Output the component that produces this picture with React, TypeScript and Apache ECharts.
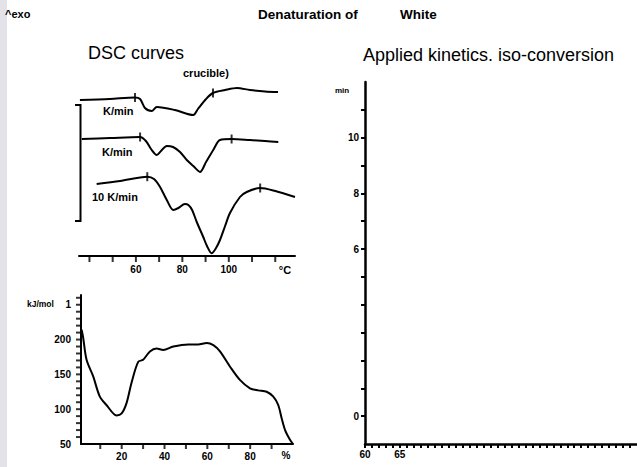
import React, { useEffect, useRef } from "react";
import * as echarts from "echarts";

// DSC curves: [temperature °C, heat flow (arb. units, offset)]
const dscSlowCurve: number[][] = [
  [35.9, 15.6], [48.8, 15.7], [59.6, 15.85], [61.8, 15.7], [63.9, 14.8], [66.8, 14.5],
  [69.0, 14.9], [76.8, 14.6], [84.7, 14.1], [86.7, 14.7], [90.2, 15.7], [93.2, 16.3],
  [98.4, 16.6], [103.5, 16.8], [109.1, 16.6], [115.6, 16.45], [121.2, 16.4],
];
const dscMidCurve: number[][] = [
  [36.7, 11.7], [48.9, 11.8], [61.8, 11.9], [64.3, 11.5], [66.5, 10.7], [69.0, 10.1],
  [70.8, 10.5], [73.3, 11.0], [76.0, 10.9], [79.0, 10.4], [81.9, 9.6], [84.7, 9.0],
  [87.6, 8.4], [90.2, 9.4], [93.3, 10.6], [96.2, 11.6], [101.2, 11.7], [109.1, 11.6],
  [115.6, 11.5], [121.3, 11.4],
];
const dscFastCurve: number[][] = [
  [43.1, 7.2], [53.2, 7.5], [64.9, 7.93], [67.8, 7.7], [70.4, 6.9], [73.3, 5.6],
  [76.1, 4.6], [78.3, 4.8], [81.1, 5.2], [82.6, 5.1], [84.2, 4.6], [86.2, 3.4],
  [89.0, 1.9], [90.6, 1.0], [92.6, 0.27], [94.5, 0.8], [96.2, 1.6], [98.4, 3.0],
  [100.5, 4.3], [104.8, 5.9], [107.7, 6.4], [113.5, 6.8], [120.0, 6.5], [128.5, 5.9],
];
// integration limits marked on each DSC curve
const dscLimitMarks: number[][] = [
  [59.6, 15.85], [93.2, 16.3],
  [61.8, 11.9], [101.2, 11.7],
  [64.9, 7.93], [113.5, 6.8],
];
const dscTickValues = [40, 50, 60, 70, 80, 90, 100, 110, 120];
const dscLabelValues = [60, 80, 100];

// Activation energy vs conversion: [conversion %, kJ/mol]
const activationEnergy: number[][] = [
  [1.3, 214], [2.0, 203], [3.6, 171], [6.7, 147], [9.8, 118], [12.9, 106], [17.6, 91],
  [20.0, 94], [22.3, 109], [24.6, 138], [27.7, 168], [30.0, 171], [33.2, 183],
  [36.3, 187], [39.4, 185], [44.1, 190], [51.1, 193], [55.7, 193], [59.7, 195],
  [62.8, 192], [65.9, 183], [70.6, 161], [75.2, 142], [79.9, 130], [83.8, 127],
  [87.7, 125], [90.8, 118], [93.1, 106], [94.7, 87], [96.3, 70], [98.6, 56], [100, 50],
];
const eaXTicks = [10, 20, 30, 40, 50, 60, 70, 80, 90];
const eaXLabels = [20, 40, 60, 80];
const eaYTicks = [60, 70, 80, 90, 100, 110, 120, 130, 140, 150, 160, 170, 180, 190, 200, 210, 220, 230, 240, 250, 260];
const eaYLabels = [50, 100, 150, 200, 250];

// Iso-conversion prediction axes (empty plot)
const isoYLabels = [0, 6, 8, 10];
const isoXLabels = [60, 65];

const FONT = '"Liberation Sans", Arial, sans-serif';
const INK = "#000";

export default function App() {
  const ref = useRef<HTMLDivElement>(null);
  useEffect(() => {
    if (!ref.current) return;
    const chart = echarts.init(ref.current, undefined, { renderer: "svg" });
    const axisLine = { show: true, onZero: false, lineStyle: { color: INK, width: 2 } };
    const label = { color: INK, fontFamily: FONT, fontWeight: "bold" as const, fontSize: 10 };
    const t = (text: string, x: number, y: number, size: number, weight = "bold", align = "left") => ({
      type: "text",
      x,
      y,
      style: { text, fill: INK, font: `${weight} ${size}px ${FONT}`, align, verticalAlign: "middle" },
    });
    const tickSeries = (xi: number, data: number[][], size: number[], offset: number[]) => ({
      type: "scatter",
      xAxisIndex: xi,
      yAxisIndex: xi,
      data,
      symbol: "rect",
      symbolSize: size,
      symbolOffset: offset,
      clip: false,
      silent: true,
      z: 5,
      itemStyle: { color: INK },
    });
    chart.setOption({
      animation: false,
      backgroundColor: "#fff",
      grid: [
        { left: 79, top: 76, width: 216, height: 180 },
        { left: 81, top: 295, width: 212, height: 149 },
        { left: 365, top: 82, width: 272, height: 362 },
      ],
      xAxis: [
        {
          gridIndex: 0, type: "value", min: 35.5, max: 128.5,
          axisLine, splitLine: { show: false }, axisTick: { show: false },
          axisLabel: { ...label, margin: 8, customValues: dscLabelValues },
        },
        {
          gridIndex: 1, type: "value", min: 1, max: 100,
          axisLine, splitLine: { show: false }, axisTick: { show: false },
          axisLabel: { ...label, margin: 7, customValues: eaXLabels },
        },
        {
          gridIndex: 2, type: "value", min: 60, max: 99, interval: 1,
          axisLine: { ...axisLine, lineStyle: { color: INK, width: 2.5 } }, splitLine: { show: false },
          axisTick: { show: true, length: 4, lineStyle: { color: INK, width: 2 } },
          axisLabel: {
            ...label, margin: 5, showMaxLabel: false,
            formatter: (v: number) => (isoXLabels.includes(v) ? String(v) : ""),
          },
        },
      ],
      yAxis: [
        { gridIndex: 0, type: "value", min: 0, max: 18, show: false },
        {
          gridIndex: 1, type: "value", min: 50, max: 264,
          axisLine, splitLine: { show: false }, axisTick: { show: false },
          axisLabel: {
            ...label, margin: 10, customValues: eaYLabels,
            formatter: (v: number) => (v === 250 ? "1" : String(v)),
          },
        },
        {
          gridIndex: 2, type: "value", min: -1, max: 12, interval: 1,
          axisLine: { ...axisLine, lineStyle: { color: INK, width: 2.5 } }, splitLine: { show: false },
          axisTick: { show: true, length: 4, lineStyle: { color: INK, width: 2 } },
          axisLabel: {
            ...label, margin: 6, showMinLabel: false, showMaxLabel: false,
            formatter: (v: number) => (isoYLabels.includes(v) ? String(v) : ""),
          },
        },
      ],
      series: [
        { type: "line", xAxisIndex: 0, yAxisIndex: 0, data: dscSlowCurve, smooth: 0.3, showSymbol: false, lineStyle: { color: INK, width: 2 } },
        { type: "line", xAxisIndex: 0, yAxisIndex: 0, data: dscMidCurve, smooth: 0.3, showSymbol: false, lineStyle: { color: INK, width: 2 } },
        { type: "line", xAxisIndex: 0, yAxisIndex: 0, data: dscFastCurve, smooth: 0.3, showSymbol: false, lineStyle: { color: INK, width: 2 } },
        { type: "scatter", xAxisIndex: 0, yAxisIndex: 0, data: dscLimitMarks, symbol: "rect", symbolSize: [2, 9], itemStyle: { color: INK } },
        { type: "line", xAxisIndex: 1, yAxisIndex: 1, data: activationEnergy, smooth: 0.3, showSymbol: false, lineStyle: { color: INK, width: 2 } },
        // axis ticks placed on the axes' own scales
        tickSeries(0, dscTickValues.map((v) => [v, 0]), [2, 5], [0, 3.5]),
        tickSeries(1, eaXTicks.map((v) => [v, 50]), [2, 4], [0, 3]),
        tickSeries(1, eaYTicks.map((v) => [1, v]), [4, 2], [-3, 0]),
      ],
      graphic: [
        { type: "rect", shape: { x: 0, y: 0, width: 7, height: 467 }, style: { fill: "#e2e2e8" }, z: 0 },
        t("^exo", 5, 14, 11),
        t("Denaturation of", 258, 14, 13.5),
        t("White", 400, 14, 13.5),
        t("DSC curves", 88, 53, 18, "normal"),
        t("Applied kinetics. iso-conversion", 363, 55, 18, "normal"),
        t("crucible)", 183, 73, 11),
        t("K/min", 103, 111, 11),
        t("K/min", 102, 152, 11),
        t("10 K/min", 92, 197, 11),
        t("°C", 285, 270, 11, "bold", "center"),
        t("kJ/mol", 27, 304, 8.5),
        t("%", 286, 455, 10, "bold", "center"),
        t("min", 335, 90, 8),
        {
          type: "polyline",
          shape: { points: [[75, 105], [80.5, 105], [80.5, 221], [75, 221]] },
          style: { stroke: INK, lineWidth: 2, fill: "none" },
        },
      ],
    });
    return () => chart.dispose();
  }, []);
  return (
    <div
      ref={ref}
      style={{ position: "fixed", left: 0, top: 0, width: 637, height: 467, background: "#fff" }}
    />
  );
}
